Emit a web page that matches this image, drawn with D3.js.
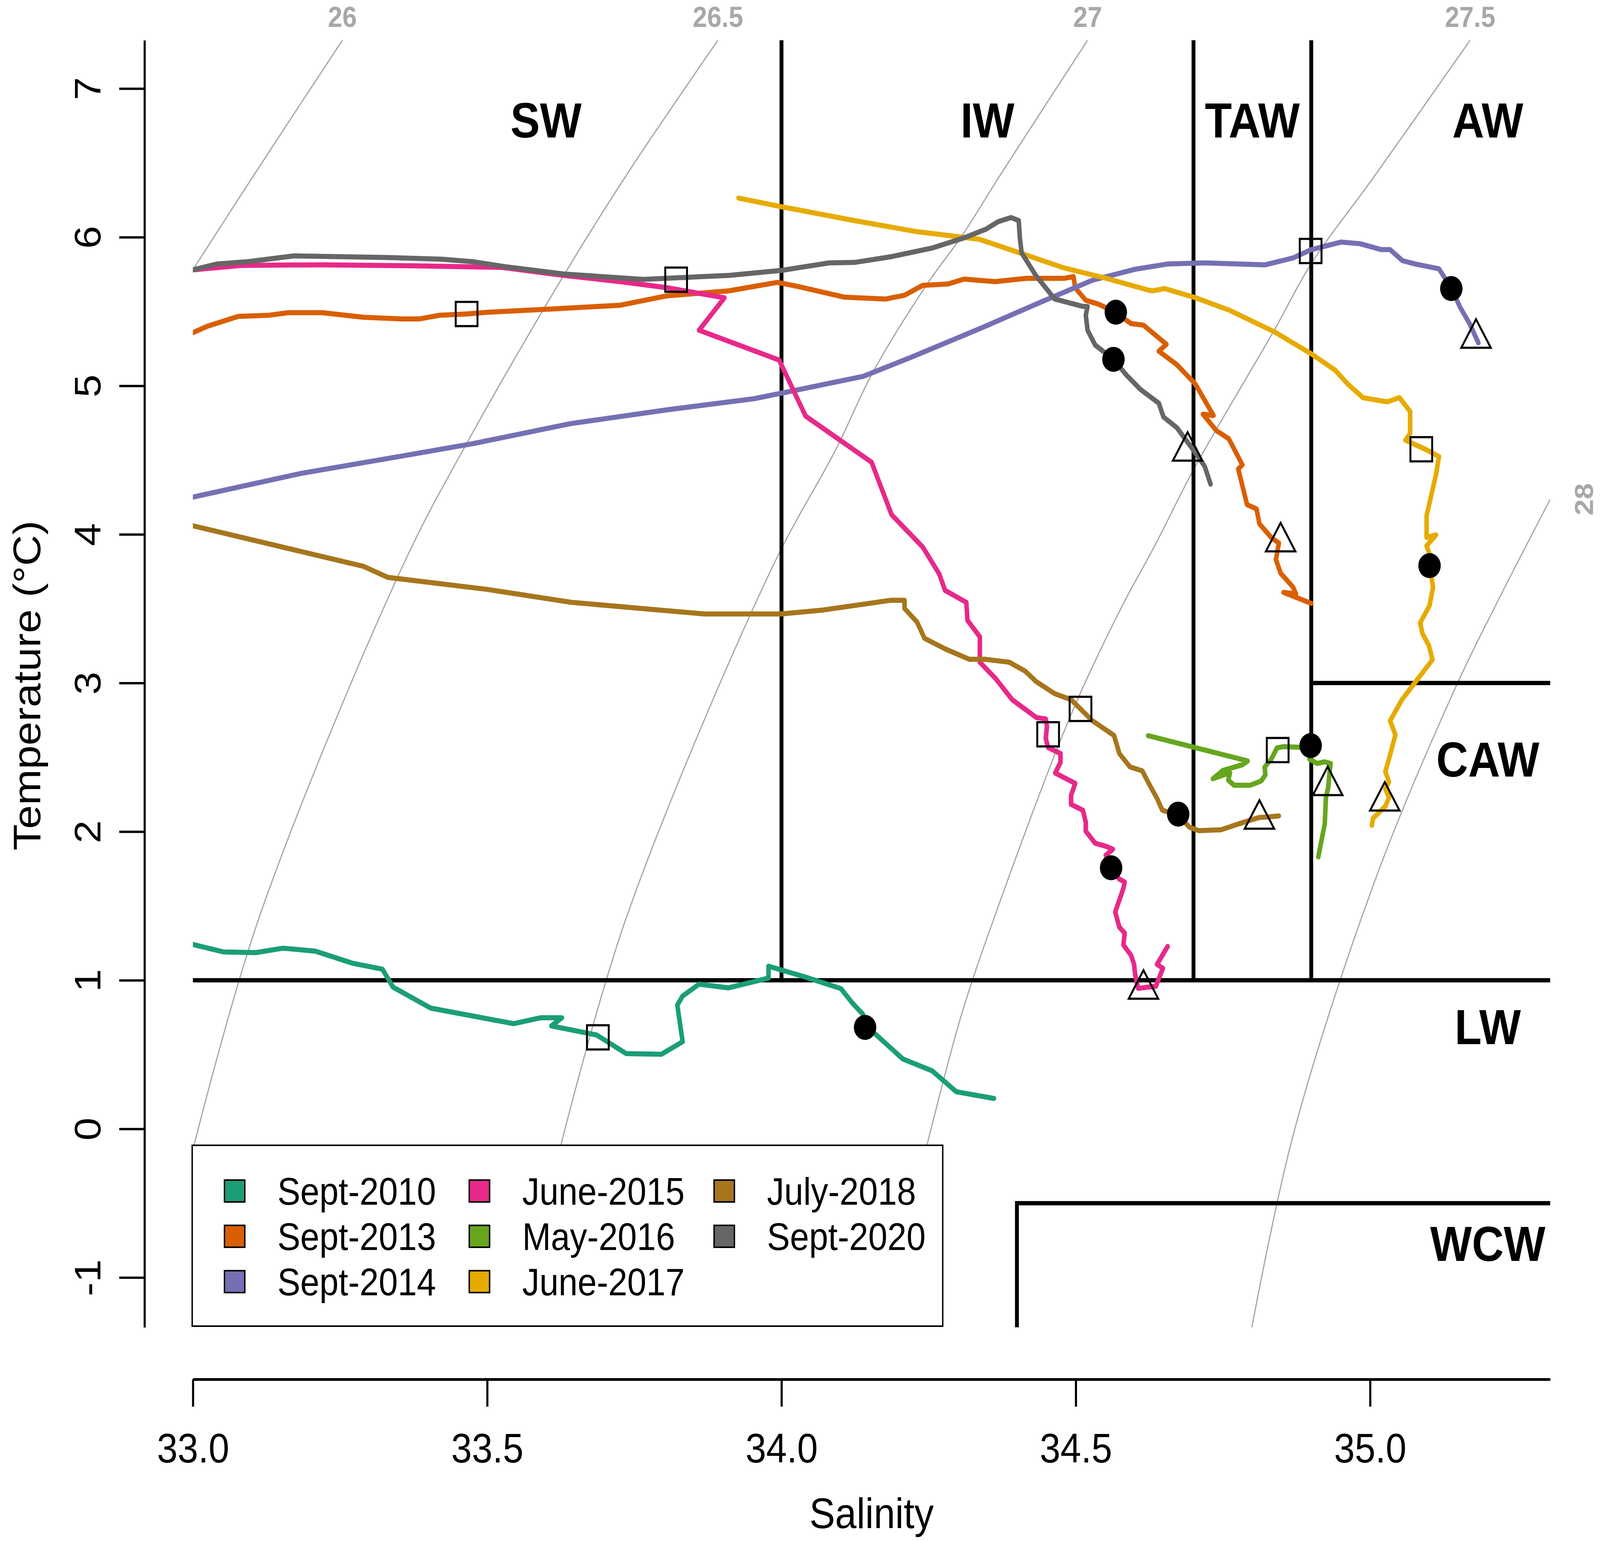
<!DOCTYPE html>
<html>
<head>
<meta charset="utf-8">
<script src="https://cdn.jsdelivr.net/npm/d3@7"></script>
<style>
  html, body { margin: 0; padding: 0; background: #fff; overflow: hidden; }
  svg { display: block; }
  svg text { font-family: "Liberation Sans", Arial, sans-serif; }
</style>
</head>
<body>
<div id="ts-chart"></div>
<script>
// Profile names and colours (RColorBrewer Dark2)
const seriesNames = ["Sept-2010", "Sept-2013", "Sept-2014", "June-2015", "May-2016", "June-2017", "July-2018", "Sept-2020"];
const seriesColors = ["#1B9E77", "#D95F02", "#7570B3", "#E7298A", "#66A61E", "#E6AB02", "#A6761D", "#666666"];

// T-S profiles, [salinity, temperature]
const sept2010 = [[33.0,1.241],[33.052,1.191],[33.107,1.186],[33.153,1.216],[33.208,1.196],[33.271,1.115],[33.322,1.075],[33.34,0.954],[33.404,0.813],[33.545,0.708],[33.591,0.748],[33.627,0.748],[33.609,0.693],[33.686,0.632],[33.736,0.507],[33.796,0.502],[33.832,0.587],[33.823,0.833],[33.832,0.894],[33.86,0.974],[33.91,0.949],[33.978,1.015],[33.978,1.095],[34.042,1.02],[34.101,0.944],[34.12,0.849],[34.138,0.773],[34.147,0.683],[34.206,0.471],[34.256,0.391],[34.297,0.25],[34.361,0.205]];
const sept2013 = [[33.0,5.357],[33.024,5.4],[33.077,5.467],[33.13,5.475],[33.162,5.492],[33.22,5.492],[33.29,5.461],[33.353,5.45],[33.385,5.45],[33.42,5.475],[33.465,5.483],[33.502,5.495],[33.61,5.517],[33.726,5.542],[33.805,5.605],[33.911,5.639],[33.993,5.696],[34.028,5.668],[34.107,5.596],[34.177,5.584],[34.209,5.609],[34.24,5.676],[34.283,5.685],[34.31,5.718],[34.363,5.701],[34.416,5.723],[34.48,5.723],[34.496,5.735],[34.499,5.659],[34.517,5.575],[34.538,5.55],[34.565,5.5],[34.594,5.418],[34.615,5.408],[34.654,5.279],[34.641,5.233],[34.672,5.141],[34.703,5.012],[34.734,4.8],[34.716,4.809],[34.739,4.698],[34.76,4.643],[34.783,4.468],[34.776,4.44],[34.791,4.2],[34.807,4.172],[34.812,4.071],[34.832,3.979],[34.845,3.942],[34.84,3.831],[34.848,3.739],[34.869,3.646],[34.874,3.6],[34.853,3.61],[34.9,3.536]];
const sept2014 = [[33.0,4.251],[33.183,4.41],[33.343,4.519],[33.476,4.611],[33.641,4.745],[33.805,4.838],[33.953,4.913],[34.006,4.955],[34.139,5.064],[34.219,5.19],[34.336,5.383],[34.443,5.567],[34.528,5.71],[34.602,5.785],[34.657,5.82],[34.719,5.827],[34.822,5.814],[34.869,5.86],[34.9,5.916],[34.951,5.967],[34.983,5.956],[35.019,5.916],[35.034,5.916],[35.055,5.842],[35.076,5.82],[35.117,5.787],[35.138,5.658],[35.153,5.528],[35.169,5.418],[35.184,5.289]];
const june2015 = [[33.0,5.78],[33.082,5.81],[33.22,5.814],[33.375,5.807],[33.524,5.797],[33.63,5.743],[33.726,5.701],[33.805,5.66],[33.903,5.592],[33.86,5.374],[33.996,5.173],[34.041,4.796],[34.153,4.486],[34.187,4.133],[34.24,3.915],[34.268,3.734],[34.278,3.623],[34.314,3.543],[34.316,3.422],[34.337,3.311],[34.337,3.14],[34.364,3.029],[34.392,2.888],[34.433,2.768],[34.449,2.758],[34.451,2.707],[34.449,2.627],[34.453,2.566],[34.474,2.526],[34.474,2.466],[34.465,2.395],[34.499,2.325],[34.492,2.244],[34.492,2.184],[34.512,2.144],[34.517,2.063],[34.517,2.003],[34.533,1.922],[34.551,1.902],[34.563,1.882],[34.551,1.842],[34.56,1.751],[34.574,1.681],[34.583,1.661],[34.581,1.62],[34.567,1.459],[34.574,1.358],[34.583,1.318],[34.581,1.238],[34.594,1.167],[34.599,1.107],[34.601,1.036],[34.606,0.946],[34.636,0.96],[34.648,1.081],[34.638,1.107],[34.656,1.228]];
const may2016 = [[34.623,2.646],[34.792,2.476],[34.783,2.45],[34.75,2.412],[34.733,2.356],[34.762,2.396],[34.759,2.347],[34.769,2.312],[34.796,2.312],[34.815,2.341],[34.822,2.382],[34.821,2.435],[34.832,2.488],[34.842,2.564],[34.853,2.572],[34.88,2.568],[34.899,2.58],[34.897,2.488],[34.91,2.459],[34.923,2.47],[34.933,2.459],[34.931,2.394],[34.929,2.3],[34.925,2.23],[34.923,2.053],[34.912,1.83]];
const june2017 = [[33.927,6.263],[34.001,6.204],[34.123,6.112],[34.23,6.037],[34.336,5.986],[34.405,5.894],[34.48,5.793],[34.549,5.726],[34.624,5.643],[34.631,5.639],[34.651,5.654],[34.703,5.593],[34.76,5.51],[34.838,5.362],[34.9,5.215],[34.941,5.104],[34.962,5.012],[34.988,4.92],[35.029,4.892],[35.05,4.92],[35.068,4.827],[35.068,4.68],[35.06,4.634],[35.096,4.569],[35.117,4.523],[35.112,4.403],[35.096,4.126],[35.096,3.979],[35.112,3.997],[35.096,3.923],[35.101,3.868],[35.101,3.794],[35.107,3.646],[35.101,3.521],[35.085,3.404],[35.089,3.333],[35.1,3.251],[35.106,3.157],[35.081,3.028],[35.054,2.887],[35.034,2.746],[35.043,2.652],[35.032,2.488],[35.026,2.406],[35.032,2.335],[35.026,2.288],[35.032,2.23],[35.026,2.171],[35.005,2.089],[35.003,2.042]];
const july2018 = [[33.0,4.058],[33.29,3.785],[33.331,3.711],[33.5,3.63],[33.643,3.543],[33.868,3.465],[34.0,3.465],[34.072,3.492],[34.186,3.557],[34.209,3.557],[34.209,3.502],[34.23,3.412],[34.243,3.301],[34.278,3.23],[34.319,3.16],[34.346,3.16],[34.387,3.14],[34.414,3.08],[34.433,3.009],[34.464,2.929],[34.492,2.888],[34.51,2.818],[34.528,2.747],[34.565,2.647],[34.574,2.526],[34.592,2.436],[34.613,2.409],[34.624,2.325],[34.638,2.224],[34.647,2.144],[34.674,2.113],[34.693,2.03],[34.709,2.007],[34.747,2.013],[34.777,2.053],[34.811,2.095],[34.83,2.1],[34.845,2.106]];
const sept2020 = [[33.0,5.78],[33.04,5.819],[33.093,5.835],[33.172,5.874],[33.322,5.864],[33.422,5.852],[33.476,5.835],[33.529,5.802],[33.63,5.752],[33.765,5.716],[33.911,5.743],[34.001,5.777],[34.081,5.827],[34.124,5.83],[34.187,5.869],[34.257,5.928],[34.31,5.995],[34.347,6.053],[34.368,6.104],[34.39,6.132],[34.403,6.112],[34.405,5.995],[34.408,5.894],[34.432,5.743],[34.464,5.584],[34.512,5.534],[34.52,5.534],[34.517,5.475],[34.52,5.374],[34.533,5.274],[34.564,5.178],[34.586,5.072],[34.61,4.975],[34.641,4.883],[34.649,4.79],[34.672,4.717],[34.703,4.55],[34.719,4.458],[34.729,4.338]];
const profiles = [sept2010, sept2013, sept2014, june2015, may2016, june2017, july2018, sept2020];

// Marked points on the profiles
const squarePoints = [[33.688,0.616],[33.465,5.483],[34.899,5.907],[34.453,2.655],[34.843,2.549],[35.087,4.573],[34.508,2.826],[33.821,5.714]];
const circlePoints = [[34.142,0.683],[34.568,5.495],[35.138,5.654],[34.56,1.757],[34.899,2.579],[35.101,3.79],[34.674,2.118],[34.564,5.178]];
const trianglePoints = [[34.848,3.95],[35.18,5.32],[34.615,0.94],[34.928,2.31],[35.025,2.206],[34.812,2.084],[34.69,4.56]];

// Density isopleths (sigma-theta)
const isoLevels = ["26", "26.5", "27", "27.5", "28"];
const iso260 = [[33.002,5.793],[33.103,6.414],[33.254,7.325]];
const iso265 = [[33.0,-0.14],[33.112,1.416],[33.356,3.784],[33.465,4.611],[33.63,5.743],[33.736,6.414],[33.892,7.325]];
const iso270 = [[33.625,-0.112],[33.736,1.417],[33.985,3.784],[34.092,4.569],[34.155,5.089],[34.246,5.676],[34.307,6.012],[34.371,6.414],[34.52,7.325]];
const iso275 = [[34.247,-0.112],[34.305,0.758],[34.361,1.417],[34.492,2.788],[34.579,3.52],[34.633,3.915],[34.703,4.457],[34.838,5.38],[34.9,5.822],[35.008,6.414],[35.17,7.325]];
const iso280 = [[34.799,-1.339],[34.87,-0.031],[35.009,1.679],[35.145,2.969],[35.213,3.52],[35.306,4.236]];
const isopleths = [iso260, iso265, iso270, iso275, iso280];

// Water mass limits
const salinityRange = [33.0, 35.306];
const temperatureRange = [-1.335, 7.325];
const massLimits = [
  [[34.0, 1], [34.0, 7.325]],
  [[34.7, 1], [34.7, 7.325]],
  [[34.9, 1], [34.9, 7.325]],
  [[33.0, 1], [35.306, 1]],
  [[34.9, 3], [35.306, 3]],
  [[34.4, -1.335], [34.4, -0.5], [35.306, -0.5]]
];
const massNames = ["SW", "IW", "TAW", "AW", "CAW", "LW", "WCW"];
const massLabelAt = [[33.6,6.79],[34.35,6.79],[34.8,6.79],[35.2,6.79],[35.2,2.49],[35.2,0.69],[35.2,-0.77]];

const xTicks = [33.0, 33.5, 34.0, 34.5, 35.0];
const yTicks = [-1, 0, 1, 2, 3, 4, 5, 6, 7];

// Page size and plot box (drawn in a 4562x3945 frame, stretched to the window)
const W = 4562, H = 3945;
const plot = { left: 550, right: 4420, top: 103, bottom: 3398 };

const svg = d3.select("#ts-chart")
  .append("svg")
  .attr("viewBox", `0 0 ${W} ${H}`)
  .attr("preserveAspectRatio", "none")
  .style("width", "100vw")
  .style("height", "100vh");

svg.append("rect").attr("width", W).attr("height", H).attr("fill", "#fff");

const x = d3.scaleLinear().domain(salinityRange).range([plot.left, plot.right]);
const y = d3.scaleLinear().domain(temperatureRange).range([plot.bottom, plot.top]);

svg.append("clipPath").attr("id", "plot-clip")
  .append("rect")
  .attr("x", plot.left).attr("y", plot.top)
  .attr("width", plot.right - plot.left).attr("height", plot.bottom - plot.top);

const line = d3.line().x(d => x(d[0])).y(d => y(d[1]));
const smoothLine = d3.line().x(d => x(d[0])).y(d => y(d[1])).curve(d3.curveCatmullRom);

// Isopleths
const isoGroup = svg.append("g").attr("clip-path", "url(#plot-clip)");
isoGroup.selectAll("path")
  .data(isopleths)
  .enter()
  .append("path")
  .attr("d", smoothLine)
  .attr("fill", "none")
  .attr("stroke", "#A8A8A8")
  .attr("stroke-width", 3.5);

// Isopleth labels: the first four sit above the plot, the last one to the right
isopleths.forEach((pts, i) => {
  const end = pts[pts.length - 1];
  const label = svg.append("text")
    .attr("text-anchor", "middle")
    .attr("font-size", 74)
    .attr("font-weight", "bold")
    .attr("fill", "#A8A8A8")
    .text(isoLevels[i]);
  if (i < 4) {
    label.attr("x", x(end[0])).attr("y", 69);
  } else {
    label.attr("transform", `translate(${x(end[0]) + 122},${y(end[1])}) rotate(-90)`);
  }
});

// Water mass limits
svg.append("g").selectAll("path")
  .data(massLimits)
  .enter()
  .append("path")
  .attr("d", line)
  .attr("fill", "none")
  .attr("stroke", "#000")
  .attr("stroke-width", 11);

// Profiles
svg.append("g").attr("clip-path", "url(#plot-clip)")
  .selectAll("path")
  .data(profiles)
  .enter()
  .append("path")
  .attr("d", line)
  .attr("fill", "none")
  .attr("stroke", (d, i) => seriesColors[i])
  .attr("stroke-width", 13)
  .attr("stroke-linejoin", "round")
  .attr("stroke-linecap", "round");

// Markers
const markGroup = svg.append("g");
markGroup.selectAll(".sq")
  .data(squarePoints)
  .enter()
  .append("rect")
  .attr("class", "sq")
  .attr("x", d => x(d[0]) - 31)
  .attr("y", d => y(d[1]) - 31)
  .attr("width", 62)
  .attr("height", 62)
  .attr("fill", "none")
  .attr("stroke", "#000")
  .attr("stroke-width", 5.5);

markGroup.selectAll(".dot")
  .data(circlePoints)
  .enter()
  .append("circle")
  .attr("class", "dot")
  .attr("cx", d => x(d[0]))
  .attr("cy", d => y(d[1]))
  .attr("r", 32)
  .attr("fill", "#000");

const tri = d3.symbol().type(d3.symbolTriangle).size(3060);
markGroup.selectAll(".tri")
  .data(trianglePoints)
  .enter()
  .append("path")
  .attr("class", "tri")
  .attr("transform", d => `translate(${x(d[0])},${y(d[1])})`)
  .attr("d", tri)
  .attr("fill", "none")
  .attr("stroke", "#000")
  .attr("stroke-width", 5.5);

// Water mass names
svg.append("g").selectAll("text")
  .data(massNames)
  .enter()
  .append("text")
  .attr("x", (d, i) => x(massLabelAt[i][0]))
  .attr("y", (d, i) => y(massLabelAt[i][1]))
  .attr("dy", "0.36em")
  .attr("text-anchor", "middle")
  .attr("font-size", 126)
  .attr("font-weight", "bold")
  .attr("fill", "#000")
  .text(d => d);

// Legend
const legend = svg.append("g");
legend.append("rect")
  .attr("x", 548).attr("y", 2932)
  .attr("width", 2140).attr("height", 463)
  .attr("fill", "#fff")
  .attr("stroke", "#000")
  .attr("stroke-width", 4);

const items = legend.selectAll(".item")
  .data(seriesNames)
  .enter()
  .append("g")
  .attr("class", "item")
  .attr("transform", (d, i) => `translate(${640 + Math.floor(i / 3) * 698},${3049 + (i % 3) * 116})`);

items.append("rect")
  .attr("x", 0).attr("y", -28)
  .attr("width", 58).attr("height", 56)
  .attr("fill", (d, i) => seriesColors[i])
  .attr("stroke", "#000")
  .attr("stroke-width", 4);

items.append("text")
  .attr("x", 151)
  .attr("dy", "0.36em")
  .attr("font-size", 98)
  .attr("fill", "#000")
  .text(d => d);

// Axes
const yAxis = svg.append("g")
  .attr("transform", `translate(412,0)`)
  .call(d3.axisLeft(y).tickValues(yTicks).tickSize(72).tickSizeOuter(0).tickFormat(d3.format("d")));
yAxis.select(".domain").attr("stroke-width", 6);
yAxis.selectAll(".tick line").attr("stroke-width", 6);
yAxis.selectAll(".tick text")
  .attr("x", null)
  .attr("dy", null)
  .attr("transform", "translate(-126,0) rotate(-90)")
  .attr("text-anchor", "middle")
  .attr("font-size", 106)
  .attr("fill", "#000")
  .text(d => d < 0 ? "-" + Math.abs(d) : d);

const xAxis = svg.append("g")
  .attr("transform", `translate(0,3531)`)
  .call(d3.axisBottom(x).tickValues(xTicks).tickSize(70).tickSizeOuter(0).tickFormat(d3.format(".1f")));
xAxis.select(".domain").attr("stroke-width", 7);
xAxis.selectAll(".tick line").attr("stroke-width", 6);
xAxis.selectAll(".tick text")
  .attr("y", 213)
  .attr("dy", null)
  .attr("font-size", 106)
  .attr("fill", "#000");

svg.append("text")
  .attr("x", (plot.left + plot.right) / 2)
  .attr("y", 3912)
  .attr("text-anchor", "middle")
  .attr("font-size", 110)
  .attr("fill", "#000")
  .text("Salinity");

svg.append("text")
  .attr("transform", "translate(115,1755) rotate(-90)")
  .attr("text-anchor", "middle")
  .attr("font-size", 110)
  .attr("fill", "#000")
  .text("Temperature (°C)");
</script>
</body>
</html>
